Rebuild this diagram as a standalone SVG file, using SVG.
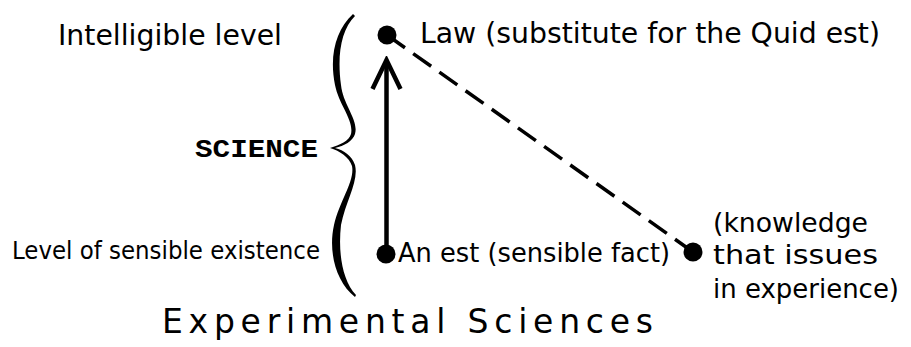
<svg xmlns="http://www.w3.org/2000/svg" width="911" height="347" viewBox="0 0 911 347">
<style>
.hand{font-family:"DejaVu Sans","Liberation Sans",sans-serif;fill:#000}
.mono{font-family:"Liberation Mono","DejaVu Sans Mono",monospace;font-weight:bold;fill:#000}
.dot{fill:#000}
.solid{stroke:#000;stroke-width:4.5;fill:none}
.dash{stroke:#000;stroke-width:3.5;fill:none;stroke-dasharray:22 10.1}
</style>
<defs>
<marker id="openHead" viewBox="-34 -18 38 36" refX="0" refY="0" markerWidth="38" markerHeight="36" markerUnits="userSpaceOnUse" orient="auto">
<path d="M-29,-14 L0,0 L-29,14" fill="none" stroke="#000" stroke-width="4.5"/>
</marker>
</defs>
<rect width="911" height="347" fill="#fff"/>
<g id="brace">
<path d="M353,14 C336,30 329,55 335,85 C339,105 354,120 351,134 C349,141 340,145 330,148 C340,151 349,157 352,166 C355,181 340,200 334,225 C328,252 336,282 355,297 L356,295 C342,280 338,252 341,225 C346,200 359,181 355,165 C352,156 344,150 335,148 C344,146 353,141 355,134 C359,120 343,105 341,85 C337,55 341,30 355,16 Z" fill="#000"/>
</g>
<g id="label-intelligible"><text class="hand" x="58" y="45" font-size="29" textLength="224" lengthAdjust="spacingAndGlyphs">Intelligible level</text></g>
<g id="label-sensible"><text class="hand" x="12" y="259" font-size="24" textLength="308" lengthAdjust="spacingAndGlyphs">Level of sensible existence</text></g>
<g id="label-science"><text class="mono" x="195" y="157" font-size="26" textLength="123" lengthAdjust="spacingAndGlyphs">SCIENCE</text></g>
<g id="connectors">
<line class="solid" x1="386.5" y1="252" x2="386.5" y2="60" marker-end="url(#openHead)"/>
<line class="dash" x1="387" y1="35" x2="693" y2="252"/>
</g>
<g id="node-law">
<circle class="dot" cx="387" cy="35" r="9.5"/>
<text class="hand" x="420" y="43" font-size="29" textLength="460" lengthAdjust="spacingAndGlyphs">Law (substitute for the Quid est)</text>
</g>
<g id="node-anest">
<circle class="dot" cx="386" cy="254" r="9.5"/>
<text class="hand" x="398" y="262" font-size="26" textLength="272" lengthAdjust="spacingAndGlyphs">An est (sensible fact)</text>
</g>
<g id="node-knowledge">
<circle class="dot" cx="693" cy="252" r="9.5"/>
<text class="hand" x="713" y="232" font-size="27" textLength="155" lengthAdjust="spacingAndGlyphs">(knowledge</text>
<text class="hand" x="713" y="264" font-size="27" textLength="165" lengthAdjust="spacingAndGlyphs">that issues</text>
<text class="hand" x="713" y="298" font-size="26" textLength="186" lengthAdjust="spacingAndGlyphs">in experience)</text>
</g>
<g id="title"><text class="hand" x="162" y="333" font-size="33" textLength="491" lengthAdjust="spacing">Experimental Sciences</text></g>
</svg>
